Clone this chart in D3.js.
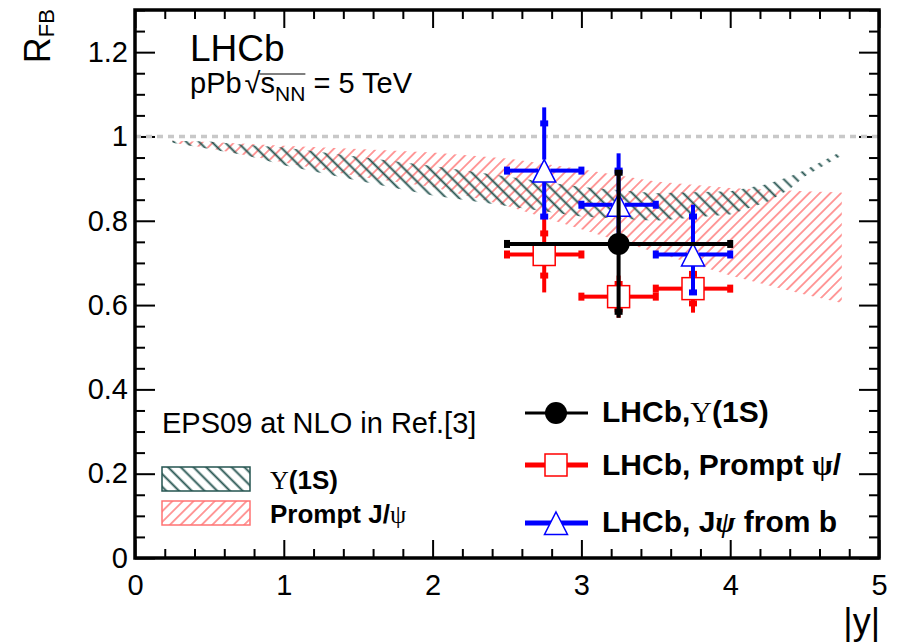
<!DOCTYPE html>
<html>
<head>
<meta charset="utf-8">
<script src="https://cdn.jsdelivr.net/npm/d3@7"></script>
<style>
    body { margin: 0; background: #fff; }
    text { font-family: "Liberation Sans", Arial, Helvetica, sans-serif; }
</style>
</head>
<body>
<div id="chart"></div>
<script>
    "use strict";

    //EPS09 NLO bands (upper / lower edge)
    var upsBandX = [0.25, 0.5, 0.75, 1.0, 1.5, 2.0, 2.5, 3.0, 3.5, 4.0, 4.25, 4.4, 4.5, 4.75];
    var upsBandHi = [0.99, 0.988, 0.98, 0.974, 0.952, 0.93, 0.905, 0.88, 0.865, 0.87, 0.887, 0.905, 0.92, 0.965];
    var upsBandLo = [0.985, 0.97, 0.955, 0.932, 0.895, 0.86, 0.835, 0.81, 0.8, 0.815, 0.845, 0.875, 0.905, 0.955];

    var jpsiBandX = [0.25, 0.5, 1.0, 1.5, 2.0, 2.5, 3.0, 3.5, 4.0, 4.5, 4.75];
    var jpsiBandHi = [0.99, 0.987, 0.978, 0.97, 0.962, 0.948, 0.922, 0.893, 0.878, 0.87, 0.867];
    var jpsiBandLo = [0.985, 0.972, 0.938, 0.905, 0.88, 0.835, 0.78, 0.725, 0.67, 0.625, 0.605];

    //LHCb Upsilon(1S)
    var upsX = [3.25], upsXLo = [2.5], upsXHi = [4.0];
    var upsY = [0.745];
    var upsStatLo = [0.161], upsStatHi = [0.169];
    var upsTotLo = [0.175], upsTotHi = [0.175];

    //LHCb prompt J/psi
    var promptX = [2.75, 3.25, 3.75], promptXLo = [2.5, 3.0, 3.5], promptXHi = [3.0, 3.5, 4.0];
    var promptY = [0.72, 0.62, 0.639];
    var promptStatLo = [0.05, 0.03, 0.035], promptStatHi = [0.05, 0.03, 0.035];
    var promptTotLo = [0.09, 0.05, 0.057], promptTotHi = [0.09, 0.05, 0.057];

    //LHCb J/psi from b
    var fromBX = [2.75, 3.25, 3.75], fromBXLo = [2.5, 3.0, 3.5], fromBXHi = [3.0, 3.5, 4.0];
    var fromBY = [0.919, 0.838, 0.72];
    var fromBStatLo = [0.109, 0.08, 0.09], fromBStatHi = [0.112, 0.081, 0.09];
    var fromBTotLo = [0.109, 0.08, 0.09], fromBTotHi = [0.15, 0.122, 0.118];

    //Axis ticks
    var xMajor = [0, 1, 2, 3, 4, 5];
    var yMajor = [0, 0.2, 0.4, 0.6, 0.8, 1.0, 1.2];
    var xTickLabels = ["0", "1", "2", "3", "4", "5"];
    var yTickLabels = ["0", "0.2", "0.4", "0.6", "0.8", "1", "1.2"];

    //Layout
    var svgW = 899, svgH = 643;
    var plotL = 135, plotR = 879, plotT = 10, plotB = 558;
    var teal = "#255450";
    var salmon = "#ff7373";
    var serif = "'Liberation Serif', 'Times New Roman', serif";

    var x = d3.scaleLinear().domain([0, 5]).range([plotL, plotR]);
    var y = d3.scaleLinear().domain([0, 1.3]).range([plotB, plotT]);

    var svg = d3.select("#chart").append("svg")
        .attr("width", svgW)
        .attr("height", svgH)
        .style("background", "#fff");

    //Hatch patterns
    var defs = svg.append("defs");
    function hatch(id, color, w, angle, sw) {
        defs.append("pattern")
            .attr("id", id)
            .attr("patternUnits", "userSpaceOnUse")
            .attr("width", w)
            .attr("height", w)
            .attr("patternTransform", "rotate(" + angle + ")")
            .append("line")
            .attr("x1", w / 2).attr("y1", 0)
            .attr("x2", w / 2).attr("y2", w)
            .attr("stroke", color)
            .attr("stroke-width", sw);
    }
    hatch("hatchJpsi", salmon, 7.5, 45, 1.4);
    hatch("hatchUps", teal, 9, -45, 1.9);

    //Bands
    function band(xs, hi, lo, fill) {
        var pts = xs.map(function (d, i) { return [d, hi[i], lo[i]]; });
        var area = d3.area()
            .x(function (d) { return x(d[0]); })
            .y0(function (d) { return y(d[2]); })
            .y1(function (d) { return y(d[1]); });
        svg.append("path")
            .datum(pts)
            .attr("d", area)
            .attr("fill", fill)
            .attr("stroke", "none");
    }
    band(jpsiBandX, jpsiBandHi, jpsiBandLo, "url(#hatchJpsi)");
    band(upsBandX, upsBandHi, upsBandLo, "url(#hatchUps)");

    //Axes - major ticks with labels, minor ticks without
    function minorTicks(lo, hi, step, majors) {
        return d3.range(lo, hi + step / 2, step).filter(function (v) {
            return !majors.some(function (m) { return Math.abs(m - v) < 1e-6; });
        });
    }
    var xMinor = minorTicks(0, 5, 0.2, xMajor);
    var yMinor = minorTicks(0, 1.3, 0.05, yMajor);

    function styleAxis(g, labelled) {
        g.select(".domain").remove();
        g.selectAll("line").attr("stroke", "#000").attr("stroke-width", 2);
        if (labelled) {
            g.selectAll("text").attr("fill", "#000").style("font-size", "29px")
                .style("font-family", "'Liberation Sans', Arial, sans-serif");
        } else {
            g.selectAll("text").remove();
        }
    }

    svg.append("g").attr("transform", "translate(" + plotL + ",0)")
        .call(d3.axisLeft(y).tickValues(yMajor).tickSizeInner(-20).tickSizeOuter(0).tickPadding(7)
            .tickFormat(function (d, i) { return yTickLabels[i]; }))
        .call(styleAxis, true);
    svg.append("g").attr("transform", "translate(" + plotL + ",0)")
        .call(d3.axisLeft(y).tickValues(yMinor).tickSizeInner(-10).tickSizeOuter(0))
        .call(styleAxis, false);
    svg.append("g").attr("transform", "translate(" + plotR + ",0)")
        .call(d3.axisRight(y).tickValues(yMajor).tickSizeInner(-20).tickSizeOuter(0))
        .call(styleAxis, false);
    svg.append("g").attr("transform", "translate(" + plotR + ",0)")
        .call(d3.axisRight(y).tickValues(yMinor).tickSizeInner(-10).tickSizeOuter(0))
        .call(styleAxis, false);

    svg.append("g").attr("transform", "translate(0," + plotB + ")")
        .call(d3.axisBottom(x).tickValues(xMajor).tickSizeInner(-18).tickSizeOuter(0).tickPadding(16)
            .tickFormat(function (d, i) { return xTickLabels[i]; }))
        .call(styleAxis, true);
    svg.append("g").attr("transform", "translate(0," + plotB + ")")
        .call(d3.axisBottom(x).tickValues(xMinor).tickSizeInner(-9).tickSizeOuter(0))
        .call(styleAxis, false);
    svg.append("g").attr("transform", "translate(0," + plotT + ")")
        .call(d3.axisTop(x).tickValues(xMajor).tickSizeInner(-18).tickSizeOuter(0))
        .call(styleAxis, false);
    svg.append("g").attr("transform", "translate(0," + plotT + ")")
        .call(d3.axisTop(x).tickValues(xMinor).tickSizeInner(-9).tickSizeOuter(0))
        .call(styleAxis, false);

    //Unity line (drawn over the tick at 1)
    svg.append("line")
        .attr("x1", x(0)).attr("x2", x(5))
        .attr("y1", y(1)).attr("y2", y(1))
        .attr("stroke", "#c8c8c8")
        .attr("stroke-width", 3.5)
        .attr("stroke-dasharray", "6,5");

    //Markers
    function marker(g, type, cx, cy, color) {
        if (type == "circle") {
            g.append("circle").attr("cx", cx).attr("cy", cy).attr("r", 11).attr("fill", color);
        } else if (type == "square") {
            g.append("rect").attr("x", cx - 11).attr("y", cy - 11).attr("width", 22).attr("height", 22)
                .attr("fill", "#fff").attr("stroke", color).attr("stroke-width", 1.5);
        } else {
            g.append("path")
                .attr("d", "M" + cx + "," + (cy - 11) + "L" + (cx + 11.5) + "," + (cy + 11.5) + "L" + (cx - 11.5) + "," + (cy + 11.5) + "Z")
                .attr("fill", "#fff").attr("stroke", color).attr("stroke-width", 1.5);
        }
    }
    //half sizes of gap around each marker: [horizontal, up, down]
    var gaps = { circle: [0, 0, 0], square: [11, 11, 11], triangle: [6, 11, 11.5] };

    function drawSeries(xs, xLo, xHi, ys, statLo, statHi, totLo, totHi, color, type) {
        var g = svg.append("g");
        var gp = gaps[type];
        xs.forEach(function (xv, i) {
            var px = x(xv), py = y(ys[i]);
            var segs = [
                [x(xLo[i]), py, px - gp[0], py],
                [px + gp[0], py, x(xHi[i]), py],
                [px, y(ys[i] + totHi[i]), px, py - gp[1]],
                [px, py + gp[2], px, y(ys[i] - totLo[i])]
            ];
            segs.forEach(function (s) {
                g.append("line")
                    .attr("x1", s[0]).attr("y1", s[1]).attr("x2", s[2]).attr("y2", s[3])
                    .attr("stroke", color).attr("stroke-width", 4);
            });
            //end caps of the x bins
            [x(xLo[i]), x(xHi[i])].forEach(function (cx) {
                g.append("rect").attr("x", cx - 3).attr("y", py - 4).attr("width", 6).attr("height", 8).attr("fill", color);
            });
            //statistical caps
            [y(ys[i] + statHi[i]), y(ys[i] - statLo[i])].forEach(function (cy) {
                g.append("rect").attr("x", px - 4).attr("y", cy - 3).attr("width", 8).attr("height", 6).attr("fill", color);
            });
            marker(g, type, px, py, color);
        });
    }
    drawSeries(promptX, promptXLo, promptXHi, promptY, promptStatLo, promptStatHi, promptTotLo, promptTotHi, "#ff0000", "square");
    drawSeries(fromBX, fromBXLo, fromBXHi, fromBY, fromBStatLo, fromBStatHi, fromBTotLo, fromBTotHi, "#0000ff", "triangle");
    drawSeries(upsX, upsXLo, upsXHi, upsY, upsStatLo, upsStatHi, upsTotLo, upsTotHi, "#000", "circle");

    //Frame
    svg.append("rect")
        .attr("x", plotL).attr("y", plotT)
        .attr("width", plotR - plotL).attr("height", plotB - plotT)
        .attr("fill", "none").attr("stroke", "#000").attr("stroke-width", 3.5);

    //Axis titles
    var yTitle = svg.append("text")
        .attr("transform", "translate(50," + (plotT - 1) + ") rotate(-90)")
        .attr("text-anchor", "end");
    yTitle.append("tspan").style("font-size", "36px").text("R");
    yTitle.append("tspan").style("font-size", "22px").attr("dy", 4).text("FB");

    svg.append("text")
        .attr("x", 880).attr("y", 634)
        .attr("text-anchor", "end")
        .style("font-size", "36px")
        .text("|y|");

    //LHCb label
    svg.append("text").attr("x", 190).attr("y", 61).style("font-size", "37px").text("LHCb");

    var sub = svg.append("text").attr("x", 190).attr("y", 93).style("font-size", "29px");
    sub.append("tspan").text("pPb");
    sub.append("tspan").attr("dx", 3).text("\u221A");
    sub.append("tspan").text("s");
    sub.append("tspan").attr("dy", 8).style("font-size", "21px").text("NN");
    sub.append("tspan").attr("dy", -8).text(" = 5 TeV");
    var node = sub.node();
    var olStart = node.getEndPositionOfChar(3).x - 1;
    var olEnd = node.getEndPositionOfChar(6).x;
    svg.append("line")
        .attr("x1", olStart).attr("x2", olEnd)
        .attr("y1", 74).attr("y2", 74)
        .attr("stroke", "#000").attr("stroke-width", 1.2);

    //Left legend (theory)
    svg.append("text").attr("x", 162).attr("y", 433).style("font-size", "29px").text("EPS09 at NLO in Ref.[3]");

    var thLegend = [
        { fill: "url(#hatchUps)", stroke: teal, y: 467, sym: "\u03A5", rest: "(1S)", pre: "" },
        { fill: "url(#hatchJpsi)", stroke: salmon, y: 501, sym: "\u03C8", rest: "", pre: "Prompt J/" }
    ];
    thLegend.forEach(function (d) {
        svg.append("rect")
            .attr("x", 162).attr("y", d.y).attr("width", 88).attr("height", 24)
            .attr("fill", d.fill).attr("stroke", d.stroke).attr("stroke-width", 1.5);
        var t = svg.append("text").attr("x", 270).attr("y", d.y + 22).style("font-size", "26px");
        if (d.pre) t.append("tspan").style("font-weight", "bold").text(d.pre);
        t.append("tspan").style("font-family", serif).text(d.sym);
        if (d.rest) t.append("tspan").style("font-weight", "bold").text(d.rest);
    });

    //Right legend (data)
    var dataLegend = [
        { color: "#000", type: "circle", y: 413, w: 3 },
        { color: "#ff0000", type: "square", y: 465, w: 5 },
        { color: "#0000ff", type: "triangle", y: 523, w: 5 }
    ];
    dataLegend.forEach(function (d) {
        var g = svg.append("g");
        g.append("line").attr("x1", 525).attr("x2", 588).attr("y1", d.y).attr("y2", d.y)
            .attr("stroke", d.color).attr("stroke-width", d.w);
        marker(g, d.type, 556, d.y, d.color);
    });

    var l1 = svg.append("text").attr("x", 602).attr("y", 422).style("font-size", "30px").style("font-weight", "bold");
    l1.append("tspan").text("LHCb,");
    l1.append("tspan").style("font-family", serif).style("font-weight", "normal").text("\u03A5");
    l1.append("tspan").text("(1S)");

    var l2 = svg.append("text").attr("x", 602).attr("y", 475).style("font-size", "30px").style("font-weight", "bold");
    l2.append("tspan").text("LHCb, Prompt ");
    l2.append("tspan").style("font-family", serif).text("\u03C8");
    l2.append("tspan").text("/");

    var l3 = svg.append("text").attr("x", 602).attr("y", 532).style("font-size", "30px").style("font-weight", "bold");
    l3.append("tspan").text("LHCb, J");
    l3.append("tspan").style("font-family", serif).style("font-style", "italic").text("\u03C8");
    l3.append("tspan").text(" from b");
</script>
</body>
</html>
